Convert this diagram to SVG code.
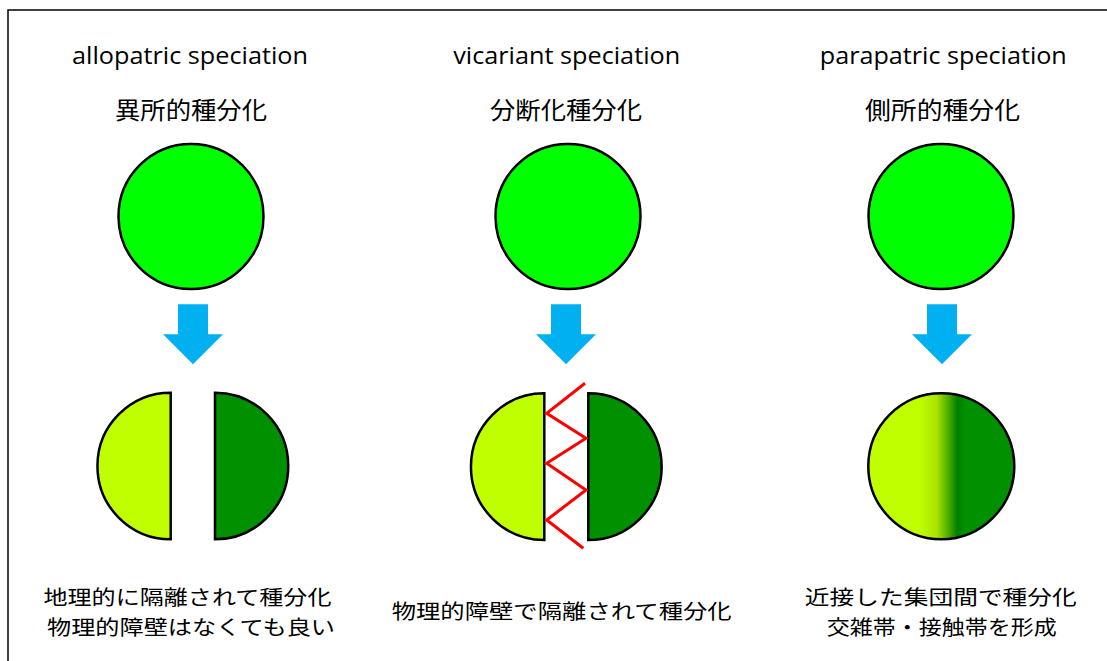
<svg xmlns="http://www.w3.org/2000/svg" width="1107" height="661" viewBox="0 0 1107 661">
<style>
.en{font-family:"Open Sans","Liberation Sans",sans-serif;font-size:24px;fill:#000;text-anchor:middle}
.jp{font-family:"Noto Sans CJK JP","Noto Sans CJK SC",sans-serif;font-size:24px;fill:#000;text-anchor:middle}
.jb{font-family:"Noto Sans CJK JP","Noto Sans CJK SC",sans-serif;font-size:20.5px;fill:#000;text-anchor:middle}
.pop{stroke:#000;stroke-width:2.5}
.arrow{fill:#00B0F0}
</style>
<defs>
<linearGradient id="hyb" x1="0" y1="0" x2="1" y2="0">
<stop offset="0" stop-color="#C0FF00"/>
<stop offset="0.35" stop-color="#C0FF00"/>
<stop offset="0.47" stop-color="#A8E400"/>
<stop offset="0.56" stop-color="#3FA500"/>
<stop offset="0.61" stop-color="#007E00"/>
<stop offset="0.66" stop-color="#009000"/>
<stop offset="1" stop-color="#009000"/>
</linearGradient>
<polygon id="arr" points="-15,0 15,0 15,30 30,30 0,60 -30,30 -15,30"/>
</defs>
<rect x="8" y="10" width="1110" height="660" fill="#fff" stroke="#000" stroke-width="1.5"/>

<g id="allopatric">
<text class="en" x="190" y="64" textLength="236" lengthAdjust="spacingAndGlyphs">allopatric speciation</text>
<text class="jp" x="191" y="119" font-size="25" textLength="152" lengthAdjust="spacingAndGlyphs">異所的種分化</text>
<circle class="pop" cx="191" cy="216.5" r="72.5" fill="#00FF00"/>
<path class="pop" d="M170.7,392.7 A73.3,73.3 0 0 0 170.7,539.3 Z" fill="#C0FF00"/>
<path class="pop" d="M215,392.7 A73.3,73.3 0 0 1 215,539.3 Z" fill="#009000"/>
<text class="jb" x="187.5" y="605" textLength="288" lengthAdjust="spacingAndGlyphs">地理的に隔離されて種分化</text>
<text class="jb" x="191" y="634.5" textLength="288" lengthAdjust="spacingAndGlyphs">物理的障壁はなくても良い</text>
</g>

<g id="vicariant">
<text class="en" x="566.7" y="64" textLength="227" lengthAdjust="spacingAndGlyphs">vicariant speciation</text>
<text class="jp" x="566" y="119" font-size="25" textLength="152" lengthAdjust="spacingAndGlyphs">分断化種分化</text>
<circle class="pop" cx="568" cy="216.5" r="72.5" fill="#00FF00"/>
<path class="pop" d="M544.3,393.3 A73.3,73.3 0 0 0 544.3,540 Z" fill="#C0FF00"/>
<path class="pop" d="M588.3,393.3 A73.3,73.3 0 0 1 588.3,540 Z" fill="#009000"/>
<polyline points="585,383.3 546.7,413.3 586,438.3 546.7,463.3 586,490 546.7,520 583.3,548.3" fill="none" stroke="#FF0000" stroke-width="3"/>
<text class="jb" x="561.7" y="619" font-size="22" textLength="340" lengthAdjust="spacingAndGlyphs">物理的障壁で隔離されて種分化</text>
</g>

<g id="parapatric">
<text class="en" x="943.3" y="64" textLength="247" lengthAdjust="spacingAndGlyphs">parapatric speciation</text>
<text class="jp" x="942.5" y="119" font-size="25" textLength="155" lengthAdjust="spacingAndGlyphs">側所的種分化</text>
<circle class="pop" cx="941" cy="216.5" r="72.5" fill="#00FF00"/>
<circle class="pop" cx="941.3" cy="466.2" r="73" fill="url(#hyb)"/>
<text class="jb" x="940.8" y="605" textLength="272" lengthAdjust="spacingAndGlyphs">近接した集団間で種分化</text>
<text class="jb" x="941.7" y="634.5" textLength="230" lengthAdjust="spacingAndGlyphs">交雑帯・接触帯を形成</text>
</g>

<g id="connectors">
<use href="#arr" class="arrow" x="193" y="304.3"/>
<use href="#arr" class="arrow" x="566" y="304.3"/>
<use href="#arr" class="arrow" x="942" y="304.3"/>
</g>
</svg>
